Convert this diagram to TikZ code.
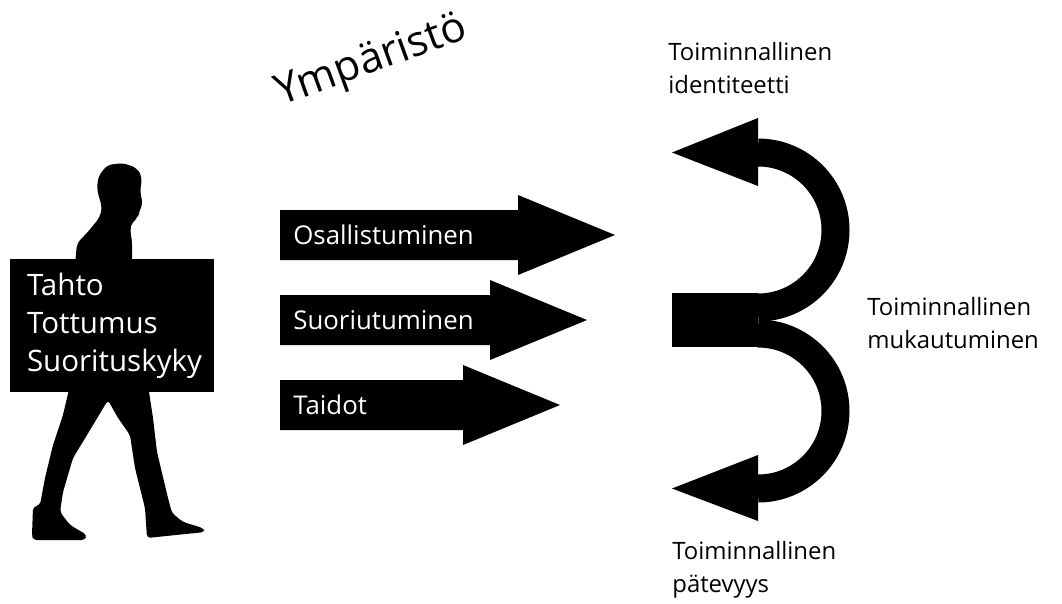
\documentclass[tikz,border=0pt]{standalone}
\usepackage{fontspec}
\setmainfont{Open Sans}

\begin{document}
\begin{tikzpicture}[x=0.02cm, y=-0.02cm,
    armtext/.style={anchor=west, inner sep=0pt, text=white, font=\fontsize{14.7}{18}\selectfont},
    lbl/.style={anchor=west, inner sep=0pt, align=left, font=\fontsize{13.6}{19}\selectfont},
    band/.style={line width=0.56cm}]
      \useasboundingbox (0,0) rectangle (1062,603);
      % man walking
      \fill[rounded corners=3] (75,265) -- (77,243) -- (87,233) -- (100,217) -- (102,207) -- (97,190)
         -- (98,177) -- (107,165) -- (123,163) -- (137,168) -- (142,177) -- (140,193) -- (143,203)
         -- (139,212) -- (138,218) -- (132,222) -- (130,230) -- (132,240) -- (132,265) -- cycle;
      \fill[rounded corners=2] (70,385) -- (63,415) -- (53,445) -- (45,478) -- (40,505) -- (33,507)
         -- (32,535) -- (33,540) -- (85,540) -- (87,535) -- (70,525) -- (60,512) -- (63,492)
         -- (73,458) -- (87,435) -- (108,400) -- (118,418) -- (130,435) -- (135,468) -- (145,508)
         -- (147,538) -- (205,532) -- (203,528) -- (183,522) -- (172,513) -- (168,498) -- (157,452)
         -- (153,418) -- (148,385) -- cycle;
      \node[fill=black, text=white, minimum width=4.08cm, minimum height=2.66cm, inner xsep=0.34cm,
         text width=3.4cm, align=left, font=\fontsize{16.8}{21.6}\selectfont]
         (sign) at (112,325.5) {Tahto\\Tottumus\\Suorituskyky};
      % three arrows
      \foreach \txt/\yc/\hb [count=\i] in {Osallistuminen/235/518, Suoriutuminen/320/490, Taidot/405/463} {
         \fill (280,\yc-25) -- (\hb,\yc-25) -- (\hb,\yc-40) -- (\hb+97,\yc) -- (\hb,\yc+40)
            -- (\hb,\yc+25) -- (280,\yc+25) -- cycle;
         \node[armtext] (arm\i) at (293,\yc) {\txt};
      }
      % curved arrow
      \fill (672,293) rectangle (758,347);
      \draw[band] (758,152.5) arc (-90:90:77.5);
      \draw[band] (758,333.5) arc (-90:90:77.5);
      \fill (758,118) -- (672,152.5) -- (758,186) -- cycle;
      \fill (758,455) -- (672,488.5) -- (758,521) -- cycle;
      % labels
      \node[rotate=20, font=\fontsize{24}{28}\selectfont] (env) at (372,62) {Ympäristö};
      \node[lbl] (ident) at (668,68) {Toiminnallinen\\identiteetti};
      \node[lbl] (adapt) at (867,323) {Toiminnallinen\\mukautuminen};
      \node[lbl] (compet) at (672,570) {Toiminnallinen\\pätevyys};
\end{tikzpicture}
\end{document}
